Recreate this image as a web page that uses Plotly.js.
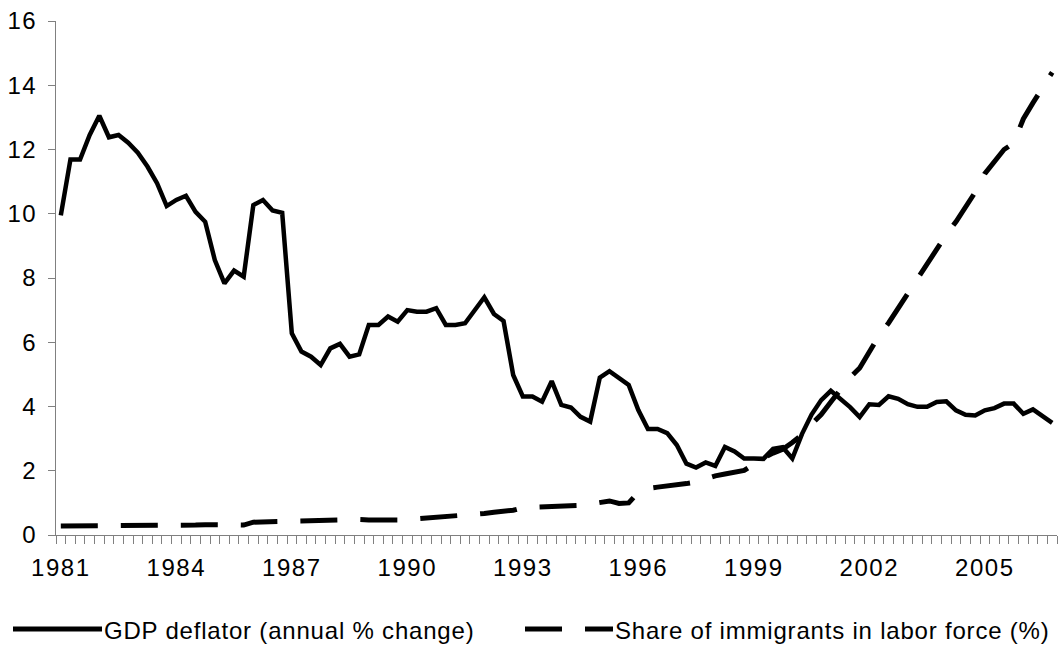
<!DOCTYPE html>
<html>
<head>
<meta charset="utf-8">
<script src="https://cdn.plot.ly/plotly-3.0.1.min.js"></script>
<style>
  html, body { margin: 0; padding: 0; background: #fff; }
  #chart { width: 1062px; height: 647px; }
  .xtick text, .ytick text { letter-spacing: 1.5px; }
  .annotation-text { letter-spacing: 0.8px; }
</style>
</head>
<body>
<div id="chart"></div>
<script>
// Quarterly data, 1981Q1 - 2006Q4
const gdpDeflator = [
  9.95, 11.69, 11.69, 12.45, 13.05, 12.38, 12.45, 12.21, 11.9, 11.47, 10.95, 10.24,
  10.43, 10.56, 10.06, 9.75, 8.56, 7.83, 8.23, 8.04, 10.27, 10.43, 10.1, 10.03,
  6.28, 5.71, 5.55, 5.29, 5.81, 5.95, 5.55, 5.62, 6.54, 6.54, 6.8, 6.64,
  7.0, 6.95, 6.95, 7.06, 6.54, 6.54, 6.59, 7.0, 7.4, 6.88, 6.66, 4.98,
  4.31, 4.31, 4.15, 4.79, 4.05, 3.97, 3.68, 3.53, 4.9, 5.1, 4.88, 4.67,
  3.89, 3.3, 3.3, 3.17, 2.8, 2.22, 2.1, 2.26, 2.15, 2.74, 2.6, 2.38,
  2.38, 2.37, 2.68, 2.73, 2.38, 3.14, 3.75, 4.2, 4.49, 4.25, 3.98, 3.67,
  4.07, 4.05, 4.32, 4.24, 4.07, 3.99, 3.99, 4.14, 4.16, 3.88, 3.74, 3.72,
  3.88, 3.95, 4.09, 4.09, 3.77, 3.91, 3.68, 3.49
];
const immigrantShare = [
  0.28, 0.28, 0.28, 0.28, 0.28, 0.28, 0.28, 0.28, 0.29, 0.29, 0.28, 0.29,
  0.31, 0.31, 0.31, 0.32, 0.32, 0.32, 0.31, 0.31, 0.40, 0.41, 0.41, 0.41,
  0.42, 0.44, 0.45, 0.46, 0.47, 0.49, 0.49, 0.48, 0.47, 0.46, 0.46, 0.47,
  0.48, 0.50, 0.52, 0.54, 0.56, 0.58, 0.60, 0.63, 0.67, 0.71, 0.73, 0.77,
  0.85, 0.86, 0.86, 0.87, 0.88, 0.90, 0.92, 0.96, 1.00, 1.06, 0.98, 1.00,
  1.33, 1.45, 1.49, 1.52, 1.56, 1.60, 1.65, 1.75, 1.84, 1.90, 1.96, 2.01,
  2.20, 2.40, 2.55, 2.67, 2.88, 3.12, 3.45, 3.75, 4.14, 4.55, 4.90, 5.20,
  5.70, 6.20, 6.60, 7.07, 7.53, 8.00, 8.48, 8.91, 9.35, 9.75, 10.20, 10.67,
  11.25, 11.60, 12.00, 12.20, 12.95, 13.45, 13.95, 14.40
];
const tickLabels = ['1981', '1984', '1987', '1990', '1993', '1996', '1999', '2002', '2005'];
const tickQuarterIndex = [0, 12, 24, 36, 48, 60, 72, 84, 96];
const seriesNames = ['GDP deflator (annual % change)', 'Share of immigrants in labor force (%)'];

const quarterIdx = gdpDeflator.map((_, i) => i);

// layout geometry (pixels)
const M = { l: 56, r: 5, t: 21, b: 112 };
const W = 1062, H = 647;
const PW = W - M.l - M.r, PH = H - M.t - M.b;
const px = (x) => (x - M.l) / PW;
const py = (y) => (H - M.b - y) / PH;

const font = 'Liberation Sans, Arial, sans-serif';
const gray = '#808080';

const traces = [
  {
    x: quarterIdx, y: gdpDeflator, name: seriesNames[0], type: 'scatter', mode: 'lines',
    line: { color: '#000', width: 4.5, shape: 'linear' }, showlegend: false
  },
  {
    x: quarterIdx, y: immigrantShare, name: seriesNames[1], type: 'scatter', mode: 'lines',
    line: { color: '#000', width: 5, dash: '37px,23px' }, showlegend: false
  }
];

const legY = 630;
const layout = {
  width: W, height: H,
  margin: M,
  paper_bgcolor: '#fff', plot_bgcolor: '#fff',
  showlegend: false,
  font: { family: font, color: '#000', size: 22 },
  xaxis: {
    range: [-0.5, gdpDeflator.length - 0.5],
    tickmode: 'array', tickvals: tickQuarterIndex, ticktext: tickLabels,
    ticks: 'outside', ticklen: 8, tickcolor: 'rgba(0,0,0,0)',
    ticklabelstandoff: 3,
    minor: { tick0: -0.5, dtick: 1, ticks: 'outside', ticklen: 8, tickcolor: gray, tickwidth: 1, showgrid: false },
    showline: true, linecolor: gray, linewidth: 1,
    showgrid: false, zeroline: false,
    tickfont: { family: font, size: 24, color: '#000' }
  },
  yaxis: {
    range: [0, 16], tickmode: 'linear', tick0: 0, dtick: 2,
    ticks: 'outside', ticklen: 7, tickcolor: gray, tickwidth: 1,
    ticklabelstandoff: 6,
    showline: true, linecolor: gray, linewidth: 1,
    showgrid: false, zeroline: false,
    tickfont: { family: font, size: 24, color: '#000' }
  },
  shapes: [
    { type: 'line', xref: 'paper', yref: 'paper', x0: px(13), x1: px(102), y0: py(legY - 1), y1: py(legY - 1),
      line: { color: '#000', width: 5 } },
    { type: 'line', xref: 'paper', yref: 'paper', x0: px(525), x1: px(613), y0: py(legY - 1), y1: py(legY - 1),
      line: { color: '#000', width: 5, dash: '37px,23px' } }
  ],
  annotations: [
    { xref: 'paper', yref: 'paper', x: px(102), y: py(legY), xanchor: 'left', yanchor: 'middle',
      text: seriesNames[0], showarrow: false, font: { family: font, size: 24, color: '#000' } },
    { xref: 'paper', yref: 'paper', x: px(613), y: py(legY), xanchor: 'left', yanchor: 'middle',
      text: seriesNames[1], showarrow: false, font: { family: font, size: 24, color: '#000' } }
  ]
};

Plotly.newPlot('chart', traces, layout, { staticPlot: true, displayModeBar: false });
</script>
</body>
</html>
